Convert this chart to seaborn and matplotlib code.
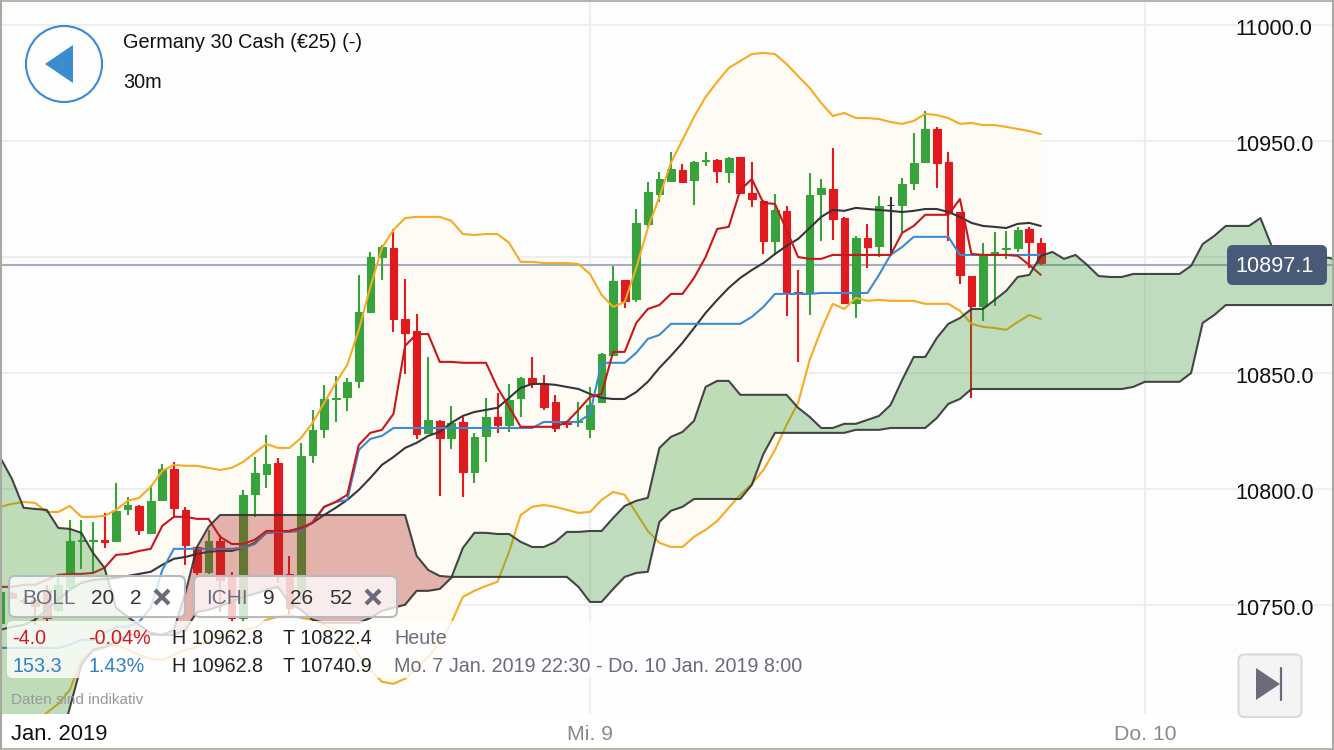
import numpy as np
import pandas as pd
import matplotlib
matplotlib.use("Agg")
import matplotlib.pyplot as plt
import matplotlib.transforms as mtransforms
import seaborn as sns
from matplotlib.patches import FancyBboxPatch, Circle, Polygon

# candles, 30m bars, 0 = Mi. 9 00:00
bars = np.arange(-51, 40)
opens = [10742.1, 10755.0, 10752.0, 10752.0, 10756.3, 10747.7, 10757.6, 10777.2, 10777.2, 10777.9,
         10777.4, 10791.2, 10792.5, 10780.9, 10795.1, 10808.5, 10790.8, 10774.8, 10764.1, 10777.4,
         10761.9, 10744.2, 10797.7, 10806.3, 10811.0, 10763.2, 10755.0, 10814.5, 10825.7, 10838.6,
         10839.5, 10846.4, 10876.1, 10899.8, 10903.7, 10873.1, 10867.9, 10824.0, 10829.2, 10821.8,
         10828.7, 10807.2, 10822.7, 10830.9, 10827.4, 10839.1, 10847.7, 10844.7, 10837.3, 10828.5,
         10828.5, 10825.7, 10837.3, 10857.6, 10889.9, 10881.7, 10914.1, 10927.0, 10932.6, 10937.3,
         10933.0, 10941.4, 10941.6, 10936.5, 10942.9, 10927.4, 10924.0, 10906.7, 10919.7, 10884.9,
         10884.3, 10927.0, 10929.1, 10916.6, 10880.0, 10908.0, 10904.6, 10922.2, 10922.2, 10931.7,
         10940.8, 10955.0, 10940.8, 10919.2, 10891.6, 10878.7, 10900.7, 10903.1, 10903.7, 10911.9,
         10905.9]
highs = [10757.2, 10755.5, 10753.0, 10752.5, 10758.5, 10762.8, 10786.5, 10786.5, 10785.6, 10789.5,
         10802.4, 10796.4, 10792.9, 10801.6, 10810.6, 10811.5, 10792.1, 10775.3, 10782.2, 10780.0,
         10764.1, 10799.4, 10813.6, 10823.1, 10813.2, 10771.0, 10819.7, 10833.9, 10844.7, 10848.5,
         10847.7, 10892.1, 10902.0, 10905.0, 10911.9, 10890.4, 10875.3, 10856.7, 10829.6, 10835.6,
         10830.9, 10824.0, 10839.1, 10841.2, 10845.1, 10847.9, 10856.7, 10849.0, 10840.4, 10828.7,
         10837.3, 10843.8, 10858.5, 10896.0, 10890.1, 10920.5, 10932.2, 10936.5, 10945.1, 10939.9,
         10941.0, 10945.1, 10942.1, 10942.9, 10943.0, 10940.8, 10924.2, 10927.0, 10921.8, 10894.2,
         10936.0, 10933.4, 10946.8, 10917.1, 10908.9, 10914.1, 10926.1, 10925.7, 10933.9, 10953.3,
         10962.8, 10955.9, 10945.1, 10919.3, 10891.8, 10905.9, 10910.6, 10911.0, 10912.8, 10912.8,
         10908.0]
lows = [10740.8, 10752.4, 10750.0, 10741.2, 10742.9, 10746.8, 10756.3, 10765.4, 10763.6, 10774.4,
        10777.0, 10788.6, 10780.0, 10780.5, 10794.7, 10787.8, 10767.1, 10762.8, 10763.2, 10746.8,
        10742.5, 10742.5, 10787.8, 10800.3, 10759.3, 10745.5, 10752.0, 10811.0, 10821.8, 10828.7,
        10833.5, 10843.4, 10875.9, 10889.9, 10867.5, 10849.4, 10821.4, 10823.6, 10796.8, 10817.1,
        10796.4, 10802.4, 10811.5, 10824.0, 10824.4, 10830.9, 10843.4, 10833.9, 10824.4, 10826.1,
        10826.6, 10821.8, 10836.9, 10857.4, 10877.9, 10880.4, 10912.3, 10923.5, 10932.4, 10932.0,
        10922.2, 10939.1, 10931.7, 10931.7, 10927.0, 10921.4, 10901.1, 10900.7, 10874.4, 10854.6,
        10874.8, 10906.7, 10907.2, 10879.6, 10873.5, 10895.1, 10899.8, 10900.7, 10910.2, 10928.7,
        10940.6, 10929.6, 10906.7, 10888.2, 10839.1, 10872.3, 10878.7, 10899.0, 10902.0, 10895.1,
        10896.4]
closes = [10755.4, 10752.9, 10751.5, 10749.4, 10744.2, 10758.5, 10777.4, 10777.6, 10777.6, 10777.0,
          10790.4, 10792.9, 10782.2, 10794.7, 10808.5, 10791.6, 10775.7, 10764.1, 10777.4, 10760.6,
          10744.2, 10797.3, 10806.7, 10810.6, 10762.8, 10748.6, 10814.1, 10825.3, 10838.6, 10839.0,
          10846.0, 10876.1, 10899.8, 10904.1, 10873.1, 10867.1, 10823.5, 10829.6, 10821.8, 10828.3,
          10807.2, 10822.3, 10830.9, 10827.4, 10838.2, 10847.7, 10845.1, 10835.2, 10826.1, 10828.0,
          10828.9, 10836.0, 10858.0, 10889.5, 10880.9, 10914.5, 10927.9, 10933.4, 10937.8, 10932.2,
          10940.8, 10941.8, 10936.9, 10942.5, 10927.4, 10924.8, 10906.7, 10920.1, 10884.7, 10884.5,
          10926.6, 10929.6, 10916.2, 10880.0, 10908.0, 10904.1, 10921.8, 10922.2, 10931.3, 10940.4,
          10955.0, 10940.4, 10918.8, 10892.1, 10878.7, 10900.7, 10902.0, 10903.5, 10911.5, 10906.3,
          10897.1]

# bollinger 20 2
boll_upper = [10792.1, 10793.4, 10794.2, 10793.8, 10789.9, 10789.9, 10792.5, 10787.8, 10787.8, 10788.2,
              10790.8, 10794.7, 10796.0, 10800.7, 10807.6, 10810.2, 10809.8, 10809.8, 10808.9, 10808.0,
              10808.9, 10811.5, 10815.4, 10819.2, 10817.5, 10817.5, 10821.8, 10828.3, 10836.9, 10845.5,
              10853.3, 10868.4, 10886.9, 10903.7, 10911.5, 10916.6, 10917.1, 10917.1, 10917.1, 10915.4,
              10909.7, 10909.3, 10909.7, 10909.7, 10905.9, 10897.7, 10897.7, 10897.2, 10897.2, 10897.2,
              10896.8, 10892.5, 10883.5, 10878.3, 10880.4, 10895.1, 10912.3, 10925.7, 10940.4, 10950.3,
              10960.2, 10968.8, 10975.3, 10981.3, 10984.3, 10987.3, 10987.8, 10987.3, 10983.0, 10977.8,
              10972.7, 10966.2, 10960.6, 10961.9, 10959.7, 10959.7, 10959.3, 10958.0, 10957.2, 10958.5,
              10961.5, 10961.0, 10959.7, 10957.2, 10957.6, 10956.7, 10956.7, 10955.9, 10955.0, 10954.1,
              10952.8]
boll_mid = [10739.1, 10740.4, 10741.2, 10743.4, 10747.7, 10752.0, 10756.3, 10759.3, 10760.6, 10761.0,
            10761.5, 10762.3, 10763.2, 10764.1, 10767.1, 10769.7, 10770.5, 10771.8, 10772.7, 10773.1,
            10773.1, 10774.4, 10776.6, 10780.9, 10781.3, 10781.7, 10783.0, 10785.2, 10788.6, 10791.7,
            10795.1, 10799.4, 10804.6, 10810.2, 10813.6, 10817.5, 10819.7, 10822.7, 10824.4, 10828.3,
            10831.3, 10833.0, 10833.9, 10834.8, 10839.1, 10843.4, 10845.1, 10845.1, 10844.7, 10843.8,
            10842.9, 10840.8, 10839.1, 10838.6, 10838.6, 10841.6, 10846.0, 10852.0, 10857.2, 10862.8,
            10869.2, 10875.7, 10881.3, 10886.5, 10890.8, 10894.2, 10897.2, 10901.1, 10904.6, 10907.6,
            10912.3, 10917.1, 10920.1, 10919.7, 10921.0, 10920.5, 10920.1, 10919.7, 10919.2, 10919.7,
            10920.5, 10920.5, 10919.2, 10917.1, 10914.5, 10913.2, 10912.8, 10912.3, 10914.1, 10914.5,
            10913.2]
boll_lower = [10691.7, 10693.8, 10696.0, 10699.4, 10703.3, 10707.2, 10713.2, 10726.1, 10729.6, 10731.3,
              10732.6, 10730.5, 10728.3, 10726.6, 10726.1, 10728.3, 10730.5, 10731.7, 10734.8, 10736.5,
              10737.8, 10739.1, 10739.9, 10743.4, 10744.7, 10745.5, 10744.2, 10743.4, 10741.2, 10739.1,
              10734.8, 10728.3, 10721.8, 10716.7, 10715.8, 10718.0, 10722.7, 10727.4, 10733.5, 10742.1,
              10753.3, 10755.9, 10758.0, 10759.8, 10772.7, 10788.6, 10792.1, 10792.9, 10792.1, 10790.8,
              10789.5, 10789.9, 10795.1, 10798.5, 10797.3, 10789.5, 10781.7, 10776.6, 10774.8, 10774.8,
              10779.2, 10782.2, 10786.0, 10791.7, 10797.3, 10802.0, 10808.0, 10816.6, 10827.4, 10836.9,
              10855.4, 10868.4, 10879.6, 10877.4, 10882.2, 10880.9, 10881.3, 10880.9, 10880.9, 10880.9,
              10879.6, 10879.6, 10879.6, 10876.6, 10871.0, 10869.7, 10869.2, 10868.4, 10871.8, 10874.8,
              10873.1]

# ichimoku 9 26 52
tenkan = [10757.6, 10757.6, 10758.5, 10758.5, 10760.6, 10762.8, 10763.2, 10763.2, 10763.6, 10765.8,
          10771.4, 10771.8, 10773.1, 10774.0, 10783.9, 10787.8, 10787.8, 10786.9, 10786.9, 10779.2,
          10776.1, 10776.1, 10777.9, 10781.7, 10781.7, 10781.7, 10783.0, 10785.2, 10792.1, 10794.2,
          10797.3, 10818.8, 10824.0, 10825.3, 10832.2, 10861.5, 10866.6, 10866.6, 10854.6, 10854.6,
          10854.2, 10854.2, 10854.2, 10843.4, 10835.2, 10826.6, 10826.6, 10826.6, 10826.6, 10828.7,
          10833.9, 10839.5, 10840.8, 10858.9, 10858.9, 10871.4, 10877.4, 10879.1, 10883.9, 10883.9,
          10890.8, 10899.8, 10911.9, 10912.8, 10928.7, 10933.4, 10923.1, 10922.7, 10911.5, 10899.8,
          10899.0, 10899.0, 10900.7, 10900.7, 10900.7, 10900.7, 10900.7, 10900.7, 10910.2, 10913.2,
          10918.0, 10918.0, 10918.0, 10924.8, 10901.1, 10900.7, 10900.7, 10900.7, 10900.3, 10896.4,
          10892.1]
kijun = [10731.3, 10731.3, 10731.3, 10731.3, 10731.3, 10731.3, 10732.6, 10734.8, 10734.8, 10737.8,
         10740.4, 10740.4, 10742.5, 10748.6, 10764.9, 10774.0, 10774.0, 10774.0, 10774.0, 10774.0,
         10774.0, 10774.4, 10776.1, 10780.9, 10781.3, 10781.3, 10781.7, 10785.6, 10792.1, 10794.2,
         10795.1, 10816.6, 10821.4, 10822.7, 10826.1, 10826.1, 10826.1, 10826.1, 10826.1, 10826.1,
         10826.1, 10826.1, 10826.1, 10826.1, 10826.1, 10826.1, 10826.1, 10828.7, 10828.7, 10828.7,
         10828.7, 10832.2, 10854.2, 10854.2, 10854.2, 10858.5, 10864.5, 10866.2, 10871.0, 10871.0,
         10871.0, 10871.0, 10871.0, 10871.0, 10871.0, 10874.0, 10878.3, 10883.9, 10883.9, 10883.9,
         10883.9, 10884.3, 10884.3, 10884.3, 10884.3, 10884.3, 10892.1, 10900.7, 10904.1, 10908.5,
         10908.5, 10908.5, 10908.5, 10900.7, 10900.7, 10900.7, 10900.7, 10900.7, 10900.7, 10900.7,
         10900.7]

# cloud runs 26 bars past the last candle
cloud_bars = np.arange(-51, 66)
span_a = [10813.2, 10804.1, 10791.7, 10791.2, 10790.8, 10783.0, 10782.6, 10780.9, 10772.3, 10765.8,
          10748.6, 10744.7, 10741.2, 10737.8, 10736.9, 10736.9, 10739.1, 10746.8, 10747.7, 10749.4,
          10751.1, 10753.3, 10754.6, 10756.3, 10757.6, 10750.7, 10747.7, 10743.4, 10742.1, 10742.1,
          10742.1, 10742.1, 10744.2, 10747.3, 10748.6, 10749.9, 10755.9, 10755.9, 10756.7, 10761.5,
          10774.4, 10780.9, 10780.9, 10780.4, 10780.4, 10777.0, 10774.8, 10774.8, 10777.0, 10781.3,
          10781.3, 10781.7, 10781.7, 10787.3, 10792.5, 10794.7, 10796.0, 10817.5, 10822.3, 10824.4,
          10829.2, 10843.8, 10846.4, 10846.4, 10840.4, 10840.4, 10840.4, 10840.4, 10840.4, 10834.8,
          10830.9, 10826.1, 10826.1, 10827.9, 10827.9, 10829.6, 10831.3, 10836.0, 10846.8, 10856.7,
          10856.7, 10864.9, 10871.0, 10873.5, 10877.4, 10877.4, 10881.3, 10885.2, 10891.2, 10892.1,
          10900.3, 10902.0, 10899.0, 10900.7, 10896.4, 10891.6, 10891.2, 10891.2, 10892.5, 10892.5,
          10892.5, 10892.5, 10892.5, 10896.0, 10905.4, 10908.9, 10913.2, 10913.2, 10913.2, 10916.6,
          10904.1, 10900.7, 10899.4, 10899.4, 10899.8, 10899.4, 10897.7]
span_b = [10665.8, 10670.1, 10674.4, 10678.7, 10683.0, 10687.4, 10705.5, 10724.0, 10730.5, 10731.7,
          10733.9, 10736.9, 10736.9, 10736.9, 10736.9, 10739.1, 10755.0, 10774.8, 10783.5, 10788.6,
          10788.6, 10788.6, 10788.6, 10788.6, 10788.6, 10788.6, 10788.6, 10788.6, 10788.6, 10788.6,
          10788.6, 10788.6, 10788.6, 10788.6, 10788.6, 10788.6, 10771.0, 10764.9, 10762.3, 10761.9,
          10761.9, 10761.9, 10761.9, 10761.9, 10761.9, 10761.9, 10761.9, 10761.9, 10761.9, 10761.9,
          10757.6, 10751.1, 10751.1, 10756.7, 10761.9, 10763.6, 10764.1, 10785.6, 10790.4, 10792.1,
          10795.5, 10795.5, 10795.5, 10795.5, 10795.5, 10801.6, 10814.9, 10824.0, 10824.0, 10824.0,
          10824.0, 10824.0, 10824.0, 10824.0, 10825.3, 10825.3, 10825.3, 10826.1, 10826.1, 10826.1,
          10826.1, 10830.4, 10836.5, 10838.6, 10842.9, 10842.9, 10842.9, 10842.9, 10842.9, 10842.9,
          10842.9, 10842.9, 10842.9, 10842.9, 10842.9, 10842.9, 10842.9, 10842.9, 10843.8, 10846.0,
          10846.0, 10846.0, 10846.0, 10849.8, 10871.4, 10874.8, 10879.1, 10879.1, 10879.1, 10879.1,
          10879.1, 10879.1, 10879.1, 10879.1, 10879.1, 10879.1, 10879.1]

# the price line sits a touch under the quoted price in the picture
price_line = 10896.5
last_price_label = "10897.1"
y_ticks = [10750, 10800, 10850, 10900, 10950, 11000]
# 10900.0 is covered by the price badge in the app
y_tick_labels = ["10750.0", "10800.0", "10850.0", "", "10950.0", "11000.0"]
x_ticks = [0, 48]
x_tick_labels = ["Mi. 9", "Do. 10"]

RED = "#e01a1e"
GREEN = "#38a33c"
LINE_RED = "#c8171d"
BLUE = "#3a8bd2"
ORANGE = "#f5ab22"
GREY = "#6b6b7a"

sns.set_theme(style="white")
plt.rcParams["font.family"] = ["Liberation Sans", "DejaVu Sans"]

fig = plt.figure(figsize=(13.34, 7.5), dpi=100, facecolor="white")
ax = fig.add_axes([0, 36 / 750, 1, 714 / 750], facecolor="#fdfdfd")

candles = pd.DataFrame({"bar": bars, "open": opens, "high": highs, "low": lows, "close": closes})
candles["color"] = np.where(candles["close"] > candles["open"], GREEN,
                            np.where(candles["close"] < candles["open"], RED, "#333333"))
lines = pd.DataFrame({"bar": bars, "upper": boll_upper, "mid": boll_mid, "lower": boll_lower,
                      "tenkan": tenkan, "kijun": kijun})
cloud = pd.DataFrame({"bar": cloud_bars, "a": span_a, "b": span_b})

ax.fill_between(lines["bar"], lines["lower"], lines["upper"], color="#fefbf5", lw=0, zorder=1)
ax.axhline(price_line, color="#a5adbd", lw=1.5, zorder=1.5)

ax.vlines(candles["bar"], candles["low"], candles["high"], colors=candles["color"], lw=1.5, zorder=2)
ax.bar(candles["bar"], (candles["close"] - candles["open"]).abs(),
       bottom=candles[["open", "close"]].min(axis=1), width=0.66,
       color=candles["color"], edgecolor=candles["color"], lw=0.8, zorder=2)

line_styles = [("upper", ORANGE), ("lower", ORANGE), ("mid", "#34363c"), ("kijun", BLUE), ("tenkan", LINE_RED)]
for name, color in line_styles:
    sns.lineplot(data=lines, x="bar", y=name, color=color, lw=1.5, ax=ax, estimator=None, errorbar=None, zorder=3)

ax.fill_between(cloud["bar"], cloud["a"], cloud["b"], where=cloud["a"] >= cloud["b"], interpolate=True,
                color="#30962f", alpha=0.3, lw=0, zorder=4)
ax.fill_between(cloud["bar"], cloud["a"], cloud["b"], where=cloud["a"] <= cloud["b"], interpolate=True,
                color="#b22a22", alpha=0.35, lw=0, zorder=4)
for name in ["a", "b"]:
    sns.lineplot(data=cloud, x="bar", y=name, color="#333333", alpha=0.9, lw=1.5, ax=ax,
                 estimator=None, errorbar=None, zorder=5)

ax.set_xlim(-51.04, 64.36)
ax.set_ylim(10702.8, 11010.6)
ax.set_xlabel("")
ax.set_ylabel("")
ax.set_xticks(x_ticks, x_tick_labels)
ax.set_yticks(y_ticks, y_tick_labels)
ax.yaxis.tick_right()
ax.grid(True, color="#eeeeee", lw=1.5)
ax.set_axisbelow(True)
ax.tick_params(axis="y", length=0, pad=-70.9, labelsize=15.6, labelcolor="#111111")
ax.tick_params(axis="x", length=0, pad=8, labelsize=15.3, labelcolor="#8a8a85")
sns.despine(ax=ax, left=True, right=True, top=True, bottom=True)

# the app prints the price labels a little under their gridline
nudge = mtransforms.ScaledTranslation(0, -2 / 72, fig.dpi_scale_trans)
for label in ax.get_yticklabels():
    label.set_transform(label.get_transform() + nudge)

# everything on top of the chart is laid out in screen pixels
ui = fig.add_axes([0, 0, 1, 1])
ui.set_xlim(0, 1334)
ui.set_ylim(750, 0)
ui.axis("off")
ui.patch.set_alpha(0)


def box(x0, y0, x1, y1, face, edge="none", lw=0.0, z=6):
    ui.add_patch(FancyBboxPatch((x0, y0), x1 - x0, y1 - y0, boxstyle="round,pad=0,rounding_size=6",
                                fc=face, ec=edge, lw=lw, zorder=z))


ui.add_patch(Circle((64, 64), 38, fc="none", ec=BLUE, lw=1.5))
ui.add_patch(Polygon([(45, 64), (73, 45), (73, 83)], fc=BLUE, ec="none"))
ui.text(123, 42.5, "Germany 30 Cash (€25) (-)", fontsize=14.3, color="#111111", va="center")
ui.text(123, 83, "30m", fontsize=14.3, color="#111111", va="center")

box(1227, 245, 1327, 285, "#495a78", z=7)
ui.text(1274.5, 266, last_price_label, fontsize=15.6, color="white", ha="center", va="center", zorder=8)

box(7, 621, 815, 678, (1, 1, 1, 0.8))
box(9, 576, 185, 617, (1, 1, 1, 0.78), "#b8bac2", 1.5)
box(194, 576, 397, 617, (1, 1, 1, 0.78), "#b8bac2", 1.5)

for x, label, color in [(22, "BOLL", GREY), (91, "20", "#333333"), (130, "2", "#333333"),
                        (206, "ICHI", GREY), (263, "9", "#333333"), (290, "26", "#333333"), (329, "52", "#333333")]:
    ui.text(x, 598.5, label, fontsize=15, color=color, va="center", zorder=8)
ui.plot([162, 373], [597, 597], ls="none", marker="x", ms=10.5, mew=3, color=GREY, zorder=8)

rows = [(638, "-4.0", "-0.04%", "10822.4", "Heute", "#cf1a20", 88),
        (666, "153.3", "1.43%", "10740.9", "Mo. 7 Jan. 2019 22:30 - Do. 10 Jan. 2019 8:00", "#2f80c6", 89)]
for y, change, pct, low, span, color, pct_x in rows:
    ui.text(12, y, change, fontsize=14.2, color=color, va="center", zorder=8)
    ui.text(pct_x, y, pct, fontsize=14.2, color=color, va="center", zorder=8)
    ui.text(172, y, "H 10962.8", fontsize=14.2, color="#222222", va="center", zorder=8)
    ui.text(283, y, "T " + low, fontsize=14.2, color="#222222", va="center", zorder=8)
    ui.text(394, y, span, fontsize=14.2, color=GREY, va="center", zorder=8)
ui.text(11, 700.5, "Daten sind indikativ", fontsize=11, color="#999999", va="center", zorder=8)

ui.text(11, 734.5, "Jan. 2019", fontsize=15.8, color="#111111", va="center", zorder=8)

box(1238.5, 654.5, 1301.5, 717, "#f4f4f5", "#d9d9de", 1.5)
ui.add_patch(Polygon([(1256, 668), (1280, 684), (1256, 700)], fc=GREY, ec="none", zorder=8))
ui.plot([1281, 1281], [668, 700], color=GREY, lw=1.6, zorder=8)

# device frame
for xs, ys in [([0, 1334], [0.7, 0.7]), ([0, 1334], [749, 749]), ([1, 1], [0, 750]), ([1333, 1333], [0, 750])]:
    ui.plot(xs, ys, color="#a9a99f", lw=1.5 if xs[0] == xs[1] else 1.2, zorder=9)

fig.savefig("out.png", dpi=100)
